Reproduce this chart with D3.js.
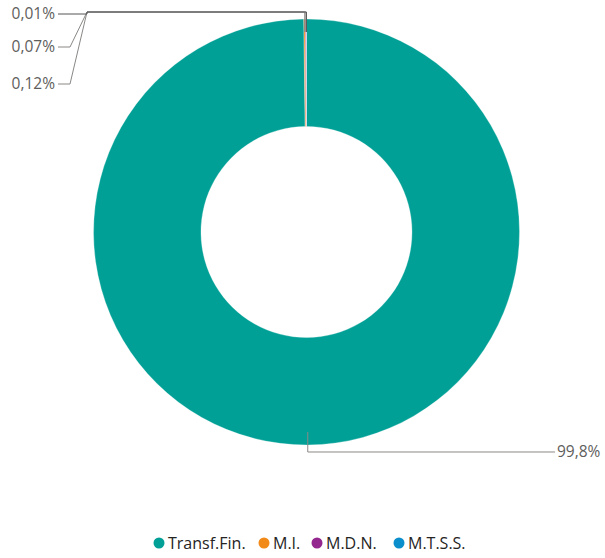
<!DOCTYPE html>
<html lang="es">
<head>
<meta charset="UTF-8">
<title>Donut</title>
<script src="https://d3js.org/d3.v7.min.js"></script>
<style>
    body { margin: 0; background: #fff; }
    svg { display: block; font-family: 'Segoe UI', 'Open Sans', sans-serif; }
    .lbl { font-size: 15.5px; fill: #605E5C; }
    .leg { font-size: 16px; fill: #252423; }
</style>
</head>
<body>
<div id="chart"></div>
<script>
    // chart data
    var categories = ["Transf.Fin.", "M.I.", "M.D.N.", "M.T.S.S."];
    var values = [99.8, 0.12, 0.07, 0.01];
    var labels = ["99,8%", "0,12%", "0,07%", "0,01%"];
    var colors = ["#01A096", "#F18A18", "#93278F", "#0A8FCC"];

    var W = 605, H = 558;
    var cx = 306.5, cy = 232, rOut = 213, rIn = 105.5;

    var svg = d3.select("#chart").append("svg")
        .attr("width", W).attr("height", H);

    var pie = d3.pie().sort(null).value(d => d.v);
    var data = categories.map((c, i) => ({ name: c, v: values[i], label: labels[i], color: colors[i] }));
    var arcs = pie(data);

    var arc = d3.arc().innerRadius(rIn).outerRadius(rOut);
    var g = svg.append("g").attr("transform", "translate(" + cx + "," + cy + ")");

    g.selectAll("path.slice")
        .data(arcs)
        .enter().append("path")
        .attr("class", "slice")
        .attr("d", arc)
        .attr("fill", d => d.data.color)
        .attr("stroke", "#fff")
        .attr("stroke-width", 0.3);

    // leader lines
    var rStart = 200, rElbow = 220;
    function pt(a, r) { return [r * Math.sin(a), -r * Math.cos(a)]; }

    // big slice label on the right side, small ones on the left
    var small = [3, 2, 1]; // order top to bottom on the left
    var leftY = [14, 47, 84];
    var lines = g.append("g").attr("fill", "none").attr("stroke", "#8a8886").attr("stroke-width", 1);

    arcs.forEach(function (d, i) {
        var mid = (d.startAngle + d.endAngle) / 2;
        var p0 = pt(mid, rStart);
        var p1 = pt(mid, rElbow);
        if (i === 0) {
            var pts = [p0, [p0[0], p1[1]], [555 - cx, p1[1]]];
            lines.append("path").attr("d", d3.line()(pts));
            g.append("text").attr("class", "lbl")
                .attr("x", 557 - cx).attr("y", p1[1])
                .attr("dy", "0.35em")
                .text(d.data.label);
        } else {
            var k = small.indexOf(i);
            var ly = leftY[k] - cy;
            var elbowY = 12 - cy;
            var pts = [p0, [p0[0], elbowY], [87 - cx, elbowY], [(k === 0 ? 87 : 70) - cx, ly], [58 - cx, ly]];
            lines.append("path").attr("d", d3.line()(pts)).attr("stroke", k === 0 ? "#555" : "#8a8886");
            g.append("text").attr("class", "lbl")
                .attr("x", 55 - cx).attr("y", ly)
                .attr("dy", "0.35em")
                .attr("text-anchor", "end")
                .text(d.data.label);
        }
    });

    // legend
    var legX = [159, 264, 317, 399];
    var legend = svg.append("g");
    data.forEach(function (d, i) {
        legend.append("circle").attr("cx", legX[i]).attr("cy", 543).attr("r", 5.5).attr("fill", d.color);
        legend.append("text").attr("class", "leg")
            .attr("x", legX[i] + 9).attr("y", 543).attr("dy", "0.35em")
            .text(d.name);
    });
</script>
</body>
</html>
